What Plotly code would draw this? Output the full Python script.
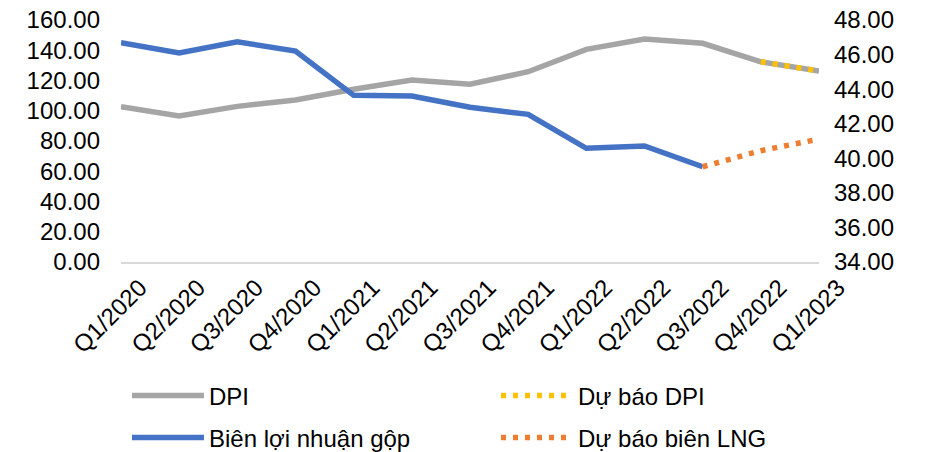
import plotly.graph_objects as go

categories = ["Q1/2020", "Q2/2020", "Q3/2020", "Q4/2020", "Q1/2021", "Q2/2021",
              "Q3/2021", "Q4/2021", "Q1/2022", "Q2/2022", "Q3/2022", "Q4/2022", "Q1/2023"]

dpi = [102.7, 96.5, 102.9, 107.1, 114.2, 120.3, 117.5, 125.8, 140.6, 147.4, 144.6, 132.4, 126.3]
dpi_forecast = [None, None, None, None, None, None, None, None, None, None, None, 132.4, 126.3]
gross_margin = [46.68, 46.10, 46.74, 46.20, 43.64, 43.60, 42.95, 42.54, 40.58, 40.71, 39.51, None, None]
margin_forecast = [None, None, None, None, None, None, None, None, None, None, 39.51, 40.44, 41.11]

left_ticks = [0, 20, 40, 60, 80, 100, 120, 140, 160]
right_ticks = [34, 36, 38, 40, 42, 44, 46, 48]

FONT = "Liberation Sans, Arial, sans-serif"
FS = 24

fig = go.Figure()
fig.add_trace(go.Scatter(x=categories, y=dpi, name="DPI", mode="lines",
                         line=dict(color="#A5A5A5", width=5.5), legend="legend"))
fig.add_trace(go.Scatter(x=categories, y=gross_margin, name="Biên lợi nhuận gộp", mode="lines",
                         line=dict(color="#4472C4", width=5.5), yaxis="y2", legend="legend3"))
fig.add_trace(go.Scatter(x=categories, y=dpi_forecast, name="Dự báo DPI", mode="lines",
                         line=dict(color="#FFC000", width=5.5, dash="5px,7px"), legend="legend2"))
fig.add_trace(go.Scatter(x=categories, y=margin_forecast, name="Dự báo biên LNG", mode="lines",
                         line=dict(color="#ED7D31", width=5.5, dash="5px,7px"), yaxis="y2",
                         legend="legend4"))


def leg(x, y):
    return dict(orientation="h", xref="container", yref="container",
                x=x, y=y, xanchor="left", yanchor="middle",
                itemwidth=72, font=dict(family=FONT, size=FS, color="#000000"),
                bgcolor="rgba(0,0,0,0)")


fig.update_layout(
    template="none",
    width=944, height=452,
    margin=dict(l=121, r=125, t=20, b=190),
    paper_bgcolor="white", plot_bgcolor="white",
    font=dict(family=FONT, size=FS, color="#000000"),
    showlegend=True,
    xaxis=dict(type="category", showgrid=False, zeroline=False, automargin=False,
               showline=True, linecolor="#D9D9D9", linewidth=2,
               tickangle=-45, ticks="", tickfont=dict(size=FS),
               ticklabelstandoff=0, ticklabelshift=19, ticklabeloverflow="allow"),
    yaxis=dict(range=[0, 160], tickvals=left_ticks, tickformat=".2f", automargin=False,
               showgrid=False, zeroline=False, showline=False, ticks="",
               ticklabelstandoff=20, tickfont=dict(size=FS), ticklabeloverflow="allow"),
    yaxis2=dict(range=[34, 48], tickvals=right_ticks, tickformat=".2f", ticksuffix="%",
                overlaying="y", side="right", showgrid=False, zeroline=False, automargin=False,
                showline=False, ticks="", ticklabelstandoff=14, tickfont=dict(size=FS),
                ticklabeloverflow="allow"),
    legend=leg(0.1345, 0.1239),
    legend2=leg(0.5254, 0.1239),
    legend3=leg(0.1345, 0.031),
    legend4=leg(0.5254, 0.031),
)

# remove the browser's default 8px page margin so the figure fills the window exactly
fig.write_html("out.html", config={"displayModeBar": False},
               post_script="document.body.style.margin='0px';")
